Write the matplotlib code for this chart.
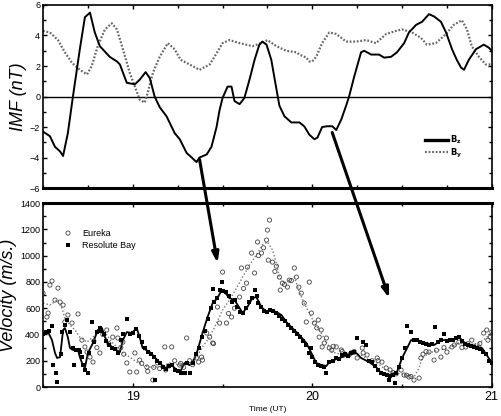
import numpy as np
import matplotlib
matplotlib.use('Agg')
import matplotlib.pyplot as plt
from matplotlib.patches import ConnectionPatch
from matplotlib.ticker import MultipleLocator

plt.rcParams['font.family'] = ['Liberation Sans', 'DejaVu Sans']

# temps en minutes apres 18:30 UT
bz_min = [0, 2.3, 4, 5.7, 6.7, 8.3, 10, 12.3, 14, 15.7, 17.3, 19, 22.3, 24.7, 25.7, 28, 30.7, 32.3, 34.3, 35.7,
          37.3, 39, 41.3, 44, 45.7, 48, 49.7, 51.3, 52.3, 54.7, 56.3, 58, 59, 60, 61.7, 63, 64, 65.7, 67.3, 69,
          70.7, 72.3, 73.3, 74.7, 76.3, 78, 79, 80.7, 83, 85.7, 87.3, 89, 90.7, 91.7, 93.3, 95, 96.7, 98, 99.7,
          101.3, 102.3, 104, 106.3, 107.3, 109.7, 112.3, 114, 116.3, 118.3, 120.7, 122.3, 124.7, 126.7, 129,
          130.7, 133, 134.7, 136.7, 138.3, 139.7, 140.7, 142.3, 144.7, 147.3, 149, 150]
bz = [-2.3, -2.6, -3.3, -3.6, -3.9, -2.4, 0, 3.1, 5.2, 5.5, 4.2, 3.3, 2.6, 2.3, 2.1, 0.9, 0.8, 1.1, 1.6, 1.2,
      0, -0.7, -1.3, -2.4, -2.8, -3.7, -4.0, -4.3, -4.0, -3.8, -3.3, -2.0, -0.9, -0.1, 0.65, 0.65, -0.3, -0.5,
      -0.1, 1.1, 2.4, 3.4, 3.6, 3.4, 2.4, 0.5, -0.6, -1.3, -1.7, -1.7, -1.95, -2.5, -2.8, -2.7, -2.0, -1.95,
      -1.95, -2.2, -1.5, -0.6, 0, 1.3, 2.9, 3.0, 2.75, 2.75, 2.55, 2.6, 2.9, 3.5, 4.2, 4.7, 4.9, 5.4, 5.25,
      4.9, 4.2, 3.1, 2.4, 1.9, 1.75, 2.4, 3.1, 3.4, 3.2, 3.0]

by_min = [0, 2.3, 5, 7.3, 9.7, 12.3, 14.7, 16.3, 18.3, 20.7, 23, 24.7, 26.7, 29, 30.7, 32.3, 34, 35, 36.7, 39,
          41.7, 44, 46, 49, 52.3, 55.7, 57.3, 60, 62.3, 65.7, 70, 73, 75, 78, 81.3, 84.7, 85.7, 88, 89, 90,
          91.3, 93.3, 95.7, 98, 101.3, 104.7, 108, 111.3, 114.7, 118, 120, 123.3, 126.3, 128.3, 131.3, 134.7,
          137.3, 140, 141.7, 143.3, 145.7, 148, 150]
by = [4.3, 4.2, 3.7, 2.9, 2.2, 1.75, 1.45, 2.0, 3.3, 4.4, 4.8, 4.4, 3.1, 1.55, 0.65, -0.2, -0.4, 0.25, 1.55, 2.6,
      3.5, 3.1, 2.4, 2.1, 1.75, 2.1, 2.6, 3.5, 3.7, 3.5, 3.3, 3.5, 3.7, 3.3, 3.0, 2.9, 2.75, 2.55, 2.3, 2.3,
      2.6, 3.5, 4.2, 4.1, 3.6, 3.6, 3.7, 3.5, 4.1, 4.3, 4.4, 4.2, 3.85, 3.4, 3.5, 4.1, 4.7, 5.0, 4.4, 3.3,
      2.6, 2.1, 2.1]

# Resolute Bay : courbe lissee
rb_line_min = [0, 1.7, 3, 4, 4.7, 5.7, 6.7, 7.3, 8.3, 9, 10, 11.7, 12.3, 13.3, 14, 15, 16.7, 18.3, 19.7, 20.7,
               21.7, 23.3, 25.7, 26.7, 28, 29.7, 31.3, 32.3, 33.3, 35.7, 37.3, 39, 40.7, 43, 44.7, 45.7, 47.3,
               49, 50, 51.7, 53.3, 55, 56.7, 58.3, 59.7, 60.7, 62.3, 64, 65.7, 66.7, 68.3, 70, 71.3, 73, 74.7,
               76.3, 78, 79.7, 81.3, 83.3, 85.7, 88, 89.7, 91.3, 93, 94.7, 95.7, 99, 102.3, 104.7, 106.3, 109,
               111.3, 113, 115.7, 118.3, 120, 121.7, 123, 125, 128, 130.7, 133.3, 136.3, 139, 141.7, 144.7,
               146.7, 148.3, 150]
rb_line = [411, 418, 357, 259, 221, 228, 434, 449, 380, 297, 282, 282, 228, 167, 145, 259, 335, 434, 449, 380,
           335, 297, 266, 357, 418, 411, 449, 380, 297, 266, 228, 183, 145, 167, 129, 110, 183, 167, 183, 282,
           411, 533, 639, 677, 738, 723, 677, 662, 601, 563, 609, 677, 685, 609, 571, 586, 571, 548, 495, 449,
           396, 335, 259, 183, 167, 160, 190, 221, 244, 259, 221, 190, 152, 107, 91, 114, 221, 297, 357, 357,
           335, 320, 357, 357, 380, 320, 305, 297, 244, 183]

# Resolute Bay : mesures
rb_min = [0, 1, 2, 3, 3.5, 4.2, 4.8, 6, 6.5, 7.5, 8, 9, 10, 10.5, 11, 12, 12.5, 13, 13.5, 14, 15, 15.5, 16.3,
          17, 18, 19, 19.5, 20.5, 21, 22, 23, 24, 25, 26, 26.7, 28, 29, 30, 31, 32, 33, 34, 35, 36, 37, 37.3,
          38, 39, 40, 41, 42, 43, 44, 45, 46, 47.3, 48, 49, 50, 51, 52, 53, 54, 55, 56, 56.7, 57, 58, 59,
          59.7, 60, 61, 62, 63, 64, 65, 66, 67, 68, 69, 70, 70.7, 71.5, 72, 73, 74, 75, 76, 77, 78, 79, 80,
          81, 82, 83, 84, 85, 86, 87, 88, 89, 89.5, 90, 91, 92, 93, 94, 94.7, 95.5, 97, 98, 99, 100, 101,
          102, 103, 104, 105, 107, 108, 109, 110, 111, 112, 113, 114, 115, 115.5, 116, 117, 117.5, 118, 119,
          120, 121, 121.7, 123, 124, 125, 126, 127, 128, 129, 130, 131, 132, 133, 134, 135, 136, 137, 138,
          139, 140, 141, 142, 143, 144, 145, 146, 147, 148, 149, 150]
rb = [405, 415, 430, 464, 170, 105, 40, 250, 420, 470, 510, 420, 300, 165, 280, 285, 270, 230, 170, 130, 110,
      260, 495, 340, 420, 450, 430, 400, 350, 320, 300, 290, 260, 360, 400, 518, 400, 410, 440, 390, 342, 300,
      270, 250, 230, 53, 200, 180, 150, 140, 160, 170, 130, 120, 110, 107, 180, 107, 183, 250, 300, 380, 430,
      520, 600, 746, 650, 680, 740, 799, 730, 720, 690, 650, 660, 610, 570, 560, 600, 650, 680, 738, 690, 640,
      610, 580, 570, 590, 580, 560, 540, 520, 500, 470, 450, 430, 400, 380, 350, 320, 260, 300, 230, 190, 170,
      160, 150, 107, 190, 200, 220, 215, 240, 250, 235, 260, 265, 373, 340, 320, 200, 190, 160, 130, 110, 100,
      95, 53, 85, 90, 30, 110, 150, 220, 300, 464, 418, 360, 355, 340, 335, 330, 320, 325, 457, 340, 360, 403,
      350, 355, 360, 375, 380, 350, 330, 320, 310, 305, 300, 290, 270, 250, 200, 180]

# Eureka : courbe lissee
eu_line_min = [0, 2.3, 4.7, 6.3, 7.3, 9, 10.7, 12.3, 14.7, 16.7, 19, 21.3, 23, 24.7, 26.7, 29, 31.3, 33.3, 35.7,
               39, 42.3, 45.7, 49, 51.3, 53.3, 55.7, 58, 60, 62.3, 64.7, 66.7, 69, 71.3, 73.3, 75, 76.7, 78, 79,
               80.7, 82.3, 84, 85.7, 87.3, 89, 90.7, 93, 94.7, 96.7, 100, 103.3, 106.3, 109, 111.7, 114.7, 118,
               121.3, 124, 125.7, 126.7, 129, 132.3, 135.7, 139, 142.3, 145.7, 148, 150]
eu_line = [639, 624, 662, 601, 525, 472, 434, 380, 342, 380, 434, 396, 342, 305, 259, 228, 190, 167, 152, 152,
           183, 167, 183, 228, 305, 380, 487, 586, 662, 753, 837, 928, 1005, 1081, 1104, 1043, 944, 837, 791,
           814, 837, 723, 639, 563, 487, 411, 342, 266, 244, 259, 244, 205, 183, 129, 107, 91, 76, 145, 221, 259,
           282, 297, 335, 320, 335, 373, 411]

# Eureka : mesures
eu_min = [0, 1.3, 1.7, 2.3, 3, 4, 5, 5.7, 6.7, 7.3, 8.3, 9.7, 11.7, 13, 14, 14.7, 15.7, 16.7, 17, 18, 19, 20,
          21.3, 22, 23.3, 24.7, 25, 26, 26.7, 27, 28, 29, 30.7, 31.3, 32.3, 33, 34.7, 35, 36.7, 37, 38.3, 39,
          40.7, 41, 42, 43, 44, 45.7, 46, 47, 48, 49, 50, 51.3, 52, 53, 53.3, 54.7, 55.7, 56.7, 57, 58.3, 59,
          60, 61.3, 62, 63, 64, 65.7, 66.3, 67, 68, 68.3, 69.7, 70.7, 71.7, 72, 73, 73.7, 74.7, 75, 75.3, 75.7,
          76.7, 77.5, 78, 79, 79.3, 80, 80.7, 81.7, 82.3, 83, 84, 84.7, 85.5, 86.3, 87.3, 88, 89, 89.7, 90.7,
          91.5, 92, 92.3, 93, 93.3, 94, 94.7, 95.7, 96.5, 97, 98, 99.7, 100, 101, 102.3, 103, 104, 105, 106.7,
          107, 108.3, 110, 111.7, 112, 113.3, 114.7, 116, 117, 118, 119.7, 120.7, 121.5, 122.3, 123, 124,
          125.7, 126.3, 127, 128, 129, 130.7, 131.5, 133, 134, 135, 136.7, 137.5, 139, 140, 141.3, 142, 143.3,
          144, 145.7, 146, 147.3, 148.3, 148.7, 149.5, 150]
eu = [715, 533, 563, 776, 807, 662, 753, 647, 624, 495, 548, 487, 556, 357, 305, 266, 228, 190, 350, 300, 259,
      400, 434, 330, 380, 449, 373, 300, 342, 250, 183, 114, 259, 114, 205, 180, 152, 120, 53, 150, 183, 140,
      305, 130, 160, 305, 200, 167, 180, 150, 373, 200, 170, 221, 190, 228, 205, 411, 380, 335, 330, 609, 487,
      875, 487, 560, 533, 600, 685, 906, 750, 791, 913, 1020, 868, 1104, 1000, 1020, 1060, 1119, 1195, 966,
      1271, 951, 880, 920, 837, 738, 791, 780, 761, 814, 810, 906, 837, 760, 715, 639, 495, 799, 563, 487, 450,
      510, 380, 434, 305, 335, 373, 297, 280, 310, 305, 282, 270, 250, 244, 260, 270, 221, 297, 260, 244, 200,
      221, 200, 190, 145, 130, 110, 100, 129, 91, 90, 76, 80, 53, 68, 221, 250, 270, 266, 205, 280, 228, 300,
      266, 305, 320, 342, 300, 305, 330, 357, 310, 305, 330, 411, 434, 357, 380, 420]


def to_ut(m):
    return 18.5 + np.array(m) / 60.0


fig = plt.figure(figsize=(5.02, 4.16), dpi=100)
ax1 = fig.add_axes([0.0857, 0.548, 0.894, 0.440])
ax2 = fig.add_axes([0.0857, 0.0697, 0.894, 0.442])

# panneau IMF
ax1.axhline(0, color='black', lw=1.0)
ax1.plot(to_ut(by_min), by, color='#666666', lw=1.6, ls=(0, (0.8, 0.8)))
ax1.plot(to_ut(bz_min), bz, color='black', lw=1.4)
ax1.set_xlim(18.5, 21)
ax1.set_ylim(-6, 6)
ax1.yaxis.set_major_locator(MultipleLocator(2))
ax1.yaxis.set_minor_locator(MultipleLocator(1))
ax1.xaxis.set_major_locator(MultipleLocator(1))
ax1.xaxis.set_minor_locator(MultipleLocator(0.25))
ax1.set_xticklabels([])
ax1.set_ylabel('IMF (nT)', fontsize=13, style='italic', labelpad=2)
ax1.spines['bottom'].set_linewidth(2.2)

ax1.plot([0.851, 0.902], [0.265, 0.265], color='black', lw=2.4, transform=ax1.transAxes)
ax1.plot([0.851, 0.902], [0.195, 0.195], color='#666666', lw=1.6, ls=(0, (0.8, 0.8)), transform=ax1.transAxes)
ax1.text(0.907, 0.265, r'$\mathbf{B_z}$', transform=ax1.transAxes, fontsize=6, va='center')
ax1.text(0.907, 0.190, r'$\mathbf{B_y}$', transform=ax1.transAxes, fontsize=6, va='center')

# panneau vitesse
ax2.plot(to_ut(eu_line_min), eu_line, color='#777777', lw=1.0, ls=(0, (1, 1.5)))
ax2.plot(to_ut(rb_line_min), rb_line, color='black', lw=1.3)
ax2.scatter(to_ut(eu_min), eu, s=9, facecolors='none', edgecolors='#444444', linewidths=0.6, zorder=3)
ax2.scatter(to_ut(rb_min), rb, s=7, marker='s', color='black', lw=0, zorder=3)
ax2.set_xlim(18.5, 21)
ax2.set_ylim(0, 1400)
ax2.yaxis.set_major_locator(MultipleLocator(200))
ax2.yaxis.set_minor_locator(MultipleLocator(100))
ax2.xaxis.set_major_locator(MultipleLocator(1))
ax2.xaxis.set_minor_locator(MultipleLocator(0.5))
ax2.set_ylabel('Velocity (m/s.)', fontsize=13, style='italic', labelpad=2)
ax2.set_xlabel('Time (UT)', fontsize=6, labelpad=2)
ax2.spines['top'].set_linewidth(2.2)

ax2.scatter([0.0557], [0.837], s=9, facecolors='none', edgecolors='#444444', linewidths=0.6,
            transform=ax2.transAxes)
ax2.scatter([0.0557], [0.772], s=7, marker='s', color='black', lw=0, transform=ax2.transAxes)
ax2.text(0.087, 0.837, 'Eureka', transform=ax2.transAxes, fontsize=6.5, va='center')
ax2.text(0.087, 0.772, 'Resolute Bay', transform=ax2.transAxes, fontsize=6.5, va='center')

for ax in [ax1, ax2]:
    ax.tick_params(which='both', direction='in', top=True, right=True, labelsize=6.5, pad=2)
    ax.tick_params(which='major', length=3, width=1)
    ax.tick_params(which='minor', length=2, width=1)
    for s in ['left', 'right']:
        ax.spines[s].set_linewidth(1.2)
ax1.spines['top'].set_linewidth(1.2)
ax2.spines['bottom'].set_linewidth(1.2)
ax2.tick_params(axis='x', which='major', labelsize=9, pad=3)

# fleches entre les deux panneaux
for start, end in [((19.372, -4.13), (19.472, 944)), ((20.111, -2.36), (20.428, 677))]:
    con = ConnectionPatch(xyA=start, coordsA=ax1.transData, xyB=end, coordsB=ax2.transData,
                          arrowstyle='-|>,head_length=0.6,head_width=0.2', lw=2.2, color='black',
                          mutation_scale=10, zorder=10)
    fig.add_artist(con)

fig.savefig('out.png', dpi=100)
